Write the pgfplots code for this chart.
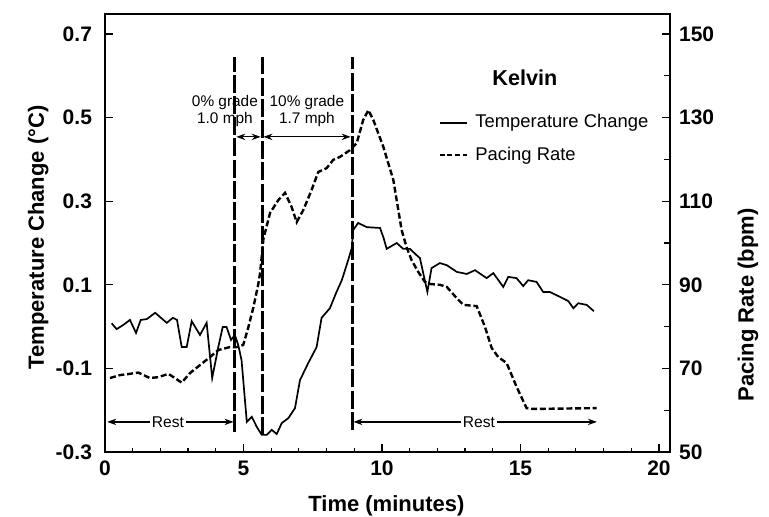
\documentclass[border=0pt]{standalone}
\usepackage{pgfplots}
\pgfplotsset{compat=1.18}
\usepackage{fontspec}
\setmainfont{Liberation Sans}
\usetikzlibrary{arrows.meta}

\pgfplotstableread{
x T
0.24 0.008
0.42 -0.006
0.66 0.004
0.90 0.016
1.12 -0.015
1.29 0.016
1.51 0.018
1.81 0.033
2.23 0.009
2.45 0.021
2.60 0.016
2.77 -0.049
2.95 -0.049
3.13 0.013
3.43 -0.020
3.67 0.009
3.87 -0.123
4.09 -0.049
4.25 -0.001
4.39 -0.001
4.55 -0.032
4.69 -0.020
4.81 -0.044
4.93 -0.080
5.12 -0.228
5.30 -0.216
5.48 -0.240
5.66 -0.259
5.84 -0.259
6.02 -0.247
6.20 -0.257
6.38 -0.231
6.62 -0.219
6.86 -0.195
7.04 -0.128
7.34 -0.087
7.64 -0.049
7.82 0.021
8.12 0.044
8.36 0.083
8.55 0.111
8.78 0.159
8.91 0.188
8.96 0.231
9.14 0.248
9.45 0.238
9.93 0.236
10.05 0.214
10.17 0.186
10.53 0.200
10.77 0.186
11.01 0.186
11.25 0.171
11.37 0.164
11.49 0.128
11.64 0.083
11.79 0.140
12.09 0.152
12.34 0.147
12.70 0.131
13.06 0.126
13.36 0.135
13.78 0.116
14.02 0.128
14.38 0.095
14.56 0.119
14.86 0.116
15.10 0.097
15.28 0.111
15.58 0.107
15.82 0.083
16.06 0.083
16.43 0.071
16.73 0.061
16.91 0.044
17.09 0.056
17.39 0.052
17.65 0.037
}\temptable

\pgfplotstableread{
x P
0.18 67.7
0.54 68.4
0.90 68.7
1.20 69.0
1.62 67.7
1.92 67.9
2.29 68.7
2.77 66.6
3.07 68.9
3.43 70.8
3.79 72.7
4.09 74.4
4.51 75.1
4.75 75.1
4.99 75.6
5.17 79.7
5.35 84.4
5.53 90.0
5.60 92.8
5.72 101.0
5.96 107.2
6.26 110.3
6.50 112.0
6.74 108.6
6.92 105.0
7.16 107.9
7.46 112.7
7.70 117.0
8.00 117.9
8.24 119.9
8.48 120.6
8.84 122.2
8.91 122.7
9.09 123.9
9.32 129.4
9.51 131.8
9.69 129.4
10.05 123.0
10.41 115.1
10.71 103.1
10.89 99.0
11.07 95.9
11.31 93.1
11.55 90.7
11.73 90.2
12.09 90.0
12.34 89.5
12.70 86.8
12.94 85.2
13.42 84.9
13.72 79.9
13.96 74.9
14.20 72.7
14.50 71.3
14.86 65.6
15.22 60.5
15.46 60.3
17.75 60.5
}\pacetable

\begin{document}
\begin{tikzpicture}
\useasboundingbox (0,0) rectangle (384.5pt,258.5pt);
\pgfplotsset{
  common/.style={
    scale only axis,
    width=282.5pt, height=219pt,
    at={(52.5pt,32.5pt)}, anchor=south west,
    xmin=0, xmax=20.4,
    tick align=inside,
    major tick length=4pt, minor tick length=2pt,
    tick style={black, line width=0.6pt},
    axis line style={line width=0.7pt},
    /pgf/number format/assume math mode=true,
    tick label style={font=\fontsize{10.5}{12}\selectfont\bfseries},
  }
}
\begin{axis}[common,
  ymin=-0.3, ymax=0.748,
  xtick={0,5,10,15,20}, minor xtick={1,2,3,4,6,7,8,9,11,12,13,14,16,17,18,19},
  xticklabels={0,5,10,15,20},
  xtick pos=bottom, ytick pos=left,
  ytick={-0.3,-0.1,0.1,0.3,0.5,0.7},
  yticklabels={-0.3,-0.1,0.1,0.3,0.5,0.7},
  xticklabel style={yshift=-1pt},
  yticklabel style={xshift=-3pt},
  clip=false,
]
\addplot[black, line width=0.85pt] table[x=x,y=T] {\temptable};

% phase boundaries
\addplot[black, line width=1.5pt, dash pattern=on 9pt off 1.6pt] coordinates {(4.69,-0.252) (4.69,0.645)};
\addplot[black, line width=1.5pt, dash pattern=on 9pt off 1.6pt] coordinates {(5.67,-0.259) (5.67,0.645)};
\addplot[black, line width=1.5pt, dash pattern=on 9pt off 1.6pt] coordinates {(8.92,-0.247) (8.92,0.645)};

% arrows
\draw[line width=0.6pt, {Stealth[length=4.5pt,width=3.2pt]}-{Stealth[length=4.5pt,width=3.2pt]}] (axis cs:4.74,0.454) -- (axis cs:5.62,0.454);
\draw[line width=0.6pt, {Stealth[length=4.5pt,width=3.2pt]}-{Stealth[length=4.5pt,width=3.2pt]}] (axis cs:5.72,0.454) -- (axis cs:8.87,0.454);
\draw[line width=0.6pt, {Stealth[length=4.5pt,width=3.2pt]}-{Stealth[length=4.5pt,width=3.2pt]}] (axis cs:0.08,-0.228) -- (axis cs:4.64,-0.228);
\draw[line width=0.6pt, {Stealth[length=4.5pt,width=3.2pt]}-{Stealth[length=4.5pt,width=3.2pt]}] (axis cs:8.97,-0.228) -- (axis cs:17.76,-0.228);
\node[fill=white, inner sep=1pt, font=\fontsize{7.8}{8}\selectfont] at (axis cs:2.27,-0.228) {Rest};
\node[fill=white, inner sep=1pt, font=\fontsize{7.8}{8}\selectfont] at (axis cs:13.5,-0.228) {Rest};

\node[align=center, font=\fontsize{7.7}{8.6}\selectfont] at (axis cs:4.33,0.515) {0\% grade\\1.0 mph};
\node[align=center, font=\fontsize{7.7}{8.6}\selectfont] at (axis cs:7.29,0.515) {10\% grade\\1.7 mph};

% title and legend
\node[font=\fontsize{10.8}{12}\selectfont\bfseries] at (axis cs:15.16,0.595) {Kelvin};
\draw[black, line width=0.6pt] (axis cs:12.09,0.487) -- (axis cs:13.07,0.487);
\node[anchor=west, font=\fontsize{9.2}{10}\selectfont, inner sep=0pt] at (axis cs:13.36,0.487) {Temperature Change};
\draw[black, line width=1.1pt, dash pattern=on 2.5pt off 1.3pt] (axis cs:12.09,0.41) -- (axis cs:13.07,0.41);
\node[anchor=west, font=\fontsize{9.2}{10}\selectfont, inner sep=0pt] at (axis cs:13.36,0.41) {Pacing Rate};

% axis labels
\node[rotate=90, font=\fontsize{11}{12}\selectfont\bfseries] at (rel axis cs:-0.118,0.49) {Temperature Change (°C)};
\node[rotate=90, font=\fontsize{11}{12}\selectfont\bfseries] at (rel axis cs:1.138,0.336) {Pacing Rate (bpm)};
\node[font=\fontsize{11}{12}\selectfont\bfseries] at (rel axis cs:0.498,-0.122) {Time (minutes)};
\end{axis}

\begin{axis}[common,
  ymin=50, ymax=154.8,
  axis x line=none,
  axis y line*=right,
  ytick={50,70,90,110,130,150},
  minor ytick={60,80,100,120,140},
  yticklabel style={xshift=1pt},
  minor tick length=3pt, major tick length=4pt,
]
\addplot[black, line width=1.2pt, dash pattern=on 3pt off 1.4pt] table[x=x,y=P] {\pacetable};
\end{axis}
\end{tikzpicture}
\end{document}
